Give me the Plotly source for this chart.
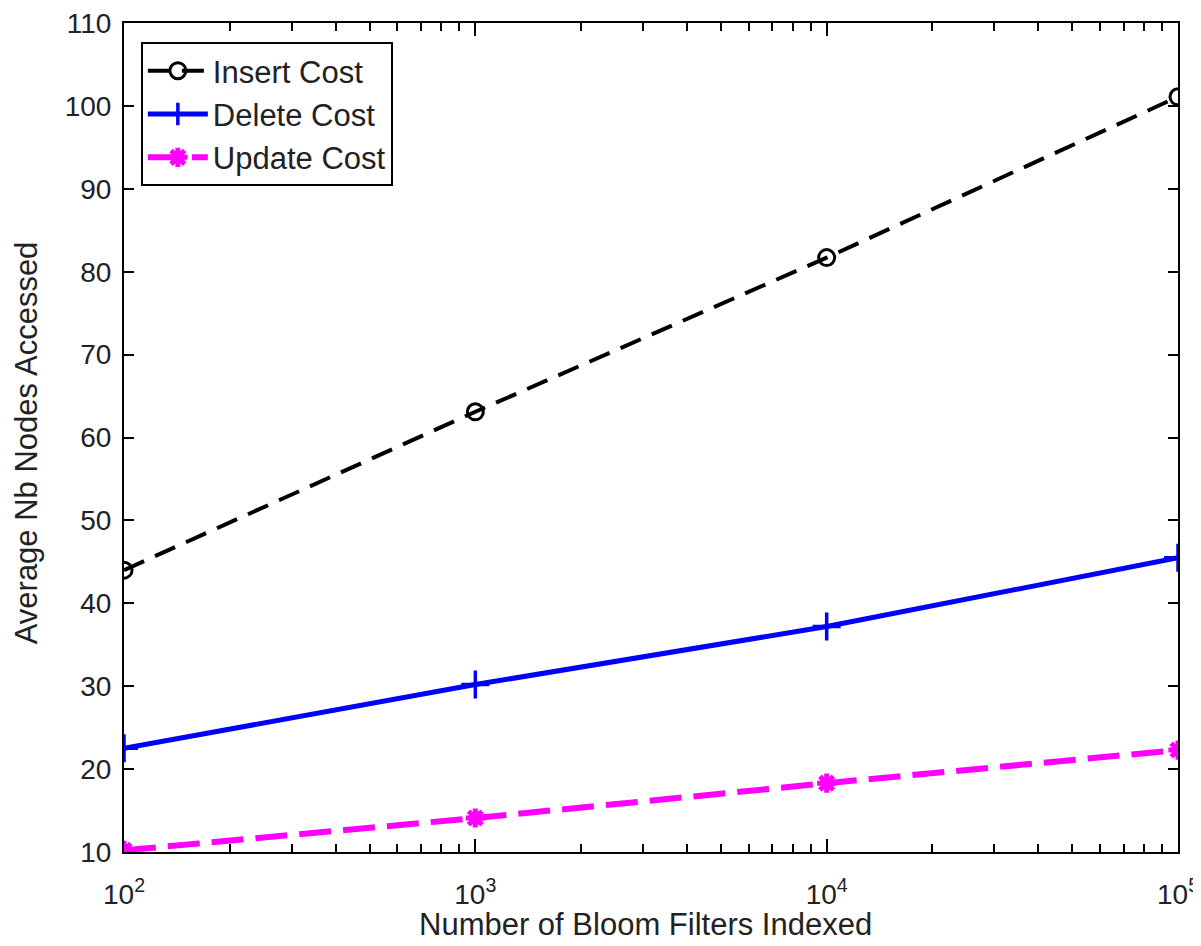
import plotly.graph_objects as go

x_vals = [100, 1000, 10000, 100000]
insert_cost = [44.0, 63.1, 81.7, 101.1]
delete_cost = [22.5, 30.2, 37.2, 45.5]
update_cost = [10.2, 14.1, 18.3, 22.3]
x_tickvals = [100, 1000, 10000, 100000]
x_ticktext = ["10<sup>2</sup>", "10<sup>3</sup>", "10<sup>4</sup>", "10<sup>5</sup>"]
y_tickvals = [10, 20, 30, 40, 50, 60, 70, 80, 90, 100, 110]
x_title = "Number of Bloom Filters Indexed"
y_title = "Average Nb Nodes Accessed"

minor_vals = [m * 10 ** e for e in range(2, 5) for m in range(2, 10)]

fig = go.Figure()
fig.add_trace(go.Scatter(
    x=x_vals, y=insert_cost, name="Insert Cost", mode="lines+markers",
    line=dict(color="black", width=4, dash="22px,12px"),
    marker=dict(symbol="circle-open", size=16, color="black", line=dict(width=3)),
))
fig.add_trace(go.Scatter(
    x=x_vals, y=delete_cost, name="Delete Cost", mode="lines+markers",
    line=dict(color="#0000ff", width=5),
    marker=dict(symbol="cross-thin-open", size=20, color="#0000ff", line=dict(width=3.5, color="#0000ff")),
))
fig.add_trace(go.Scatter(
    x=x_vals, y=update_cost, name="Update Cost", mode="lines+markers",
    line=dict(color="#ff00ff", width=6, dash="32px,12px"),
    marker=dict(symbol="asterisk-open", size=16, color="#ff00ff", line=dict(width=5, color="#ff00ff")),
))

tick_font = dict(family="Liberation Sans, Arial, sans-serif", size=28, color="#222")
title_font = dict(family="Liberation Sans, Arial, sans-serif", size=31, color="#222")

fig.update_layout(
    width=1193, height=936,
    margin=dict(l=116, r=23, t=15, b=92),
    paper_bgcolor="white", plot_bgcolor="white",
    font=title_font,
    showlegend=True,
    legend=dict(
        x=0.016, y=0.977, xanchor="left", yanchor="top",
        bordercolor="black", borderwidth=2, bgcolor="white",
        font=dict(family="Liberation Sans, Arial, sans-serif", size=31, color="#222"),
        itemwidth=60, tracegroupgap=0,
    ),
    xaxis=dict(
        type="log", range=[2, 5], automargin=False,
        tickvals=x_tickvals, ticktext=x_ticktext, ticklabeloverflow="allow",
        ticklabelstandoff=16,
        ticks="inside", ticklen=13, tickwidth=2, tickcolor="black",
        showline=True, linecolor="black", linewidth=2, mirror="ticks",
        showgrid=False, zeroline=False,
        minor=dict(tickvals=minor_vals, ticks="inside", ticklen=8, tickwidth=2, tickcolor="black", showgrid=False),
        tickfont=tick_font,
    ),
    yaxis=dict(
        range=[10, 110], tickvals=y_tickvals, automargin=False, ticklabeloverflow="allow",
        ticklabelstandoff=5,
        ticks="inside", ticklen=10, tickwidth=2, tickcolor="black",
        showline=True, linecolor="black", linewidth=2, mirror="ticks",
        showgrid=False, zeroline=False,
        tickfont=tick_font,
    ),
    annotations=[
        dict(text=x_title, xref="paper", yref="paper", x=0.495, y=0, xanchor="center",
             yanchor="middle", yshift=-72, showarrow=False, font=title_font),
        dict(text=y_title, xref="paper", yref="paper", x=0, y=0.493, xanchor="center",
             yanchor="middle", xshift=-98, textangle=-90, showarrow=False, font=title_font),
    ],
)

fig.write_html("out.html")
